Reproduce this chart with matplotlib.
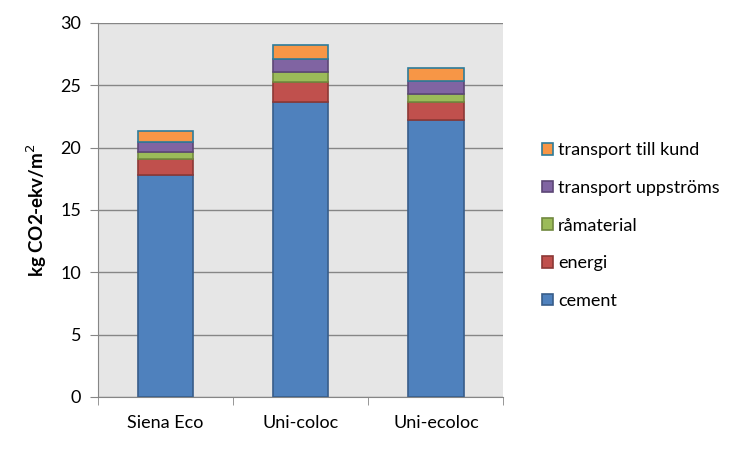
import numpy as np
import matplotlib
matplotlib.use("Agg")
from matplotlib import pyplot as plt

plt.rcParams['font.family'] = ['Lato', 'DejaVu Sans']

categories = ['Siena Eco', 'Uni-coloc', 'Uni-ecoloc']
series_names = ['cement', 'energi', 'råmaterial', 'transport uppströms', 'transport till kund']
cement = [17.78, 23.70, 22.20]
energi = [1.28, 1.60, 1.50]
ramaterial = [0.56, 0.76, 0.64]
transport_upp = [0.80, 1.04, 0.98]
transport_kund = [0.88, 1.12, 1.06]
y_ticks = [0, 5, 10, 15, 20, 25, 30]

series = [cement, energi, ramaterial, transport_upp, transport_kund]
face_colors = ['#4F81BD', '#C0504D', '#9BBB59', '#8064A2', '#F79646']
edge_colors = ['#385D8A', '#8C3836', '#71893F', '#5C4776', '#2E7C9A']

fig = plt.figure(figsize=(7.5, 4.5), dpi=100)
ax = fig.add_axes([0.1307, 0.1178, 0.5406, 0.8311])
ax.set_facecolor('#E6E6E6')

x = np.arange(len(categories))
bottom = np.zeros(len(categories))
handles = []
for name, vals, fc, ec in zip(series_names, series, face_colors, edge_colors):
    h = ax.bar(x, vals, width=0.41, bottom=bottom, color=fc, edgecolor=ec,
               linewidth=1.2, label=name, zorder=3)
    handles.append(h)
    bottom += np.array(vals)

ax.set_xlim(-0.5, len(categories) - 0.5)
ax.set_ylim(0, 30)
ax.set_yticks(y_ticks)
ax.yaxis.grid(True, color='#868686', linewidth=1.0, zorder=1)
ax.set_xticks(x)
ax.set_xticklabels(categories, fontsize=13)
ax.set_xticks(np.arange(len(categories) + 1) - 0.5, minor=True)
ax.tick_params(axis='x', which='major', length=0, pad=13)
ax.tick_params(axis='x', which='minor', length=6, color='#868686', direction='out')
ax.tick_params(axis='y', length=6, color='#868686', labelsize=13, pad=6)
for side in ['top', 'right']:
    ax.spines[side].set_visible(False)
for side in ['left', 'bottom']:
    ax.spines[side].set_color('#868686')

ax.set_ylabel('kg CO2-ekv/m$^2$', fontsize=13.5, fontweight='bold', labelpad=8)

fig.legend(handles[::-1], series_names[::-1], loc='upper left',
           bbox_to_anchor=(0.713, 0.7), frameon=False, fontsize=13,
           handlelength=0.6, handleheight=0.6, handletextpad=0.3,
           labelspacing=1.2, borderaxespad=0)

fig.savefig('out.png', dpi=100)
